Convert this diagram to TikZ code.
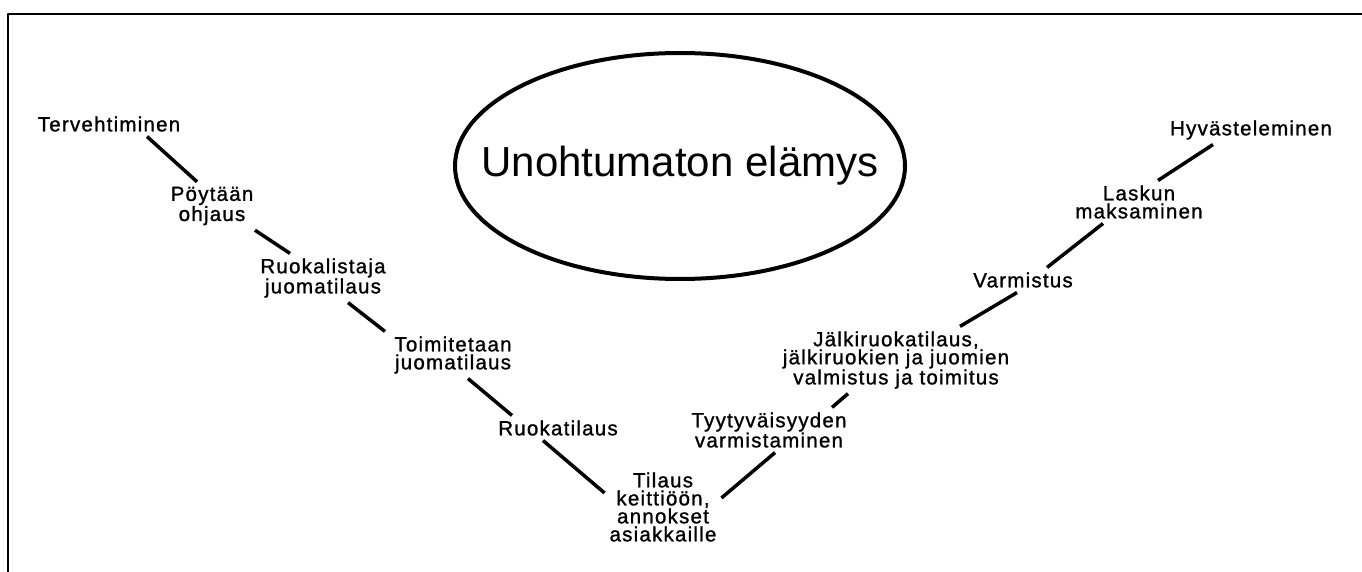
\documentclass[tikz,border=0pt]{standalone}
\usepackage{fontspec}
\setmainfont{Liberation Sans}
\newfontfamily\lblfont[LetterSpace=6,FakeBold=1.2]{Liberation Sans}
\begin{document}
\begin{tikzpicture}[x=1pt,y=-1pt,line join=round,
  lbl/.style={font=\lblfont\fontsize{20.5}{18}\selectfont,align=center,inner sep=0pt,outer sep=5pt},
  link/.style={line width=3.5pt}]
\useasboundingbox (0,0) rectangle (1362,572);
\draw[line width=1.5pt] (1362,14)--(8,14)--(8,572);
\node[font=\fontsize{42}{50}\selectfont,inner sep=0pt] (goal) at (680,166) {Unohtumaton elämys};
\draw[line width=4pt] (goal.center) ellipse [x radius=225,y radius=113];
\node[lbl] (terv) at (109,124) {Tervehtiminen};
\node[lbl] (poyta) at (212,206) {Pöytään\\ohjaus};
\node[lbl] (ruokalista) at (323,278) {Ruokalistaja\\juomatilaus};
\node[lbl] (juoma) at (453,355) {Toimitetaan\\juomatilaus};
\node[lbl] (ruokatilaus) at (558,428) {Ruokatilaus};
\node[lbl] (keittio) at (663,507) {Tilaus\\keittiöön,\\annokset\\asiakkaille};
\node[lbl] (tyytyv) at (769,430) {Tyytyväisyyden\\varmistaminen};
\node[lbl] (jalki) at (896,360) {Jälkiruokatilaus,\\jälkiruokien ja juomien\\valmistus ja toimitus};
\node[lbl] (varmistus) at (1023,280) {Varmistus};
\node[lbl] (lasku) at (1139,202) {Laskun\\maksaminen};
\node[lbl] (hyvastely) at (1251,130) {Hyvästeleminen};
\draw[link] ([xshift=38pt]terv.south) -- ([xshift=-15pt]poyta.north);
\draw[link] ([xshift=43pt]poyta.south) -- ([xshift=-33pt]ruokalista.north);
\draw[link] ([xshift=25pt]ruokalista.south) -- ([xshift=-68pt]juoma.north);
\draw[link] ([xshift=15pt]juoma.south) -- ([xshift=-46pt]ruokatilaus.north);
\draw[link] ([xshift=-15pt]ruokatilaus.south) -- ([yshift=14pt]keittio.west);
\draw[link] ([yshift=9pt]keittio.east) -- ([xshift=6pt]tyytyv.south);
\draw[link] ([xshift=63pt]tyytyv.north) -- ([xshift=-48pt]jalki.south);
\draw[link] ([xshift=64pt]jalki.north) -- ([xshift=-6pt]varmistus.south);
\draw[link] ([xshift=24pt]varmistus.north) -- ([xshift=-36pt]lasku.south);
\draw[link] ([xshift=19pt]lasku.north) -- ([xshift=-38pt]hyvastely.south);
\end{tikzpicture}
\end{document}
